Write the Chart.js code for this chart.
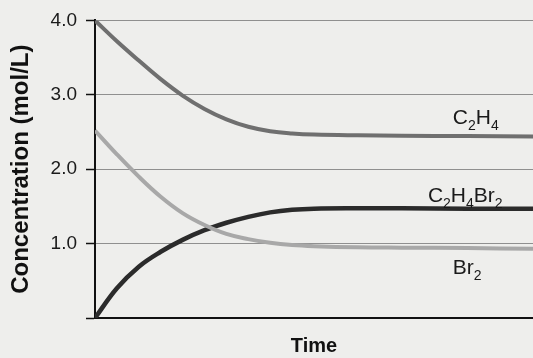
<!DOCTYPE html>
<html>
<head>
<meta charset="utf-8">
<script src="https://cdn.jsdelivr.net/npm/chart.js@4.4.1/dist/chart.umd.min.js"></script>
<style>
html, body { margin: 0; padding: 0; background: #eeeeec; }
#wrap { width: 533px; height: 358px; }
</style>
</head>
<body>
<div id="wrap"><canvas id="myChart"></canvas></div>
<script>
// time (arbitrary units) and concentrations (mol/L)
const times = [0, 0.5, 1.0, 1.5, 2.0, 2.5, 3.0, 3.5, 4.0, 4.5, 5.0, 6.0, 7.0, 8.5, 10.0];
const c2h4 = [4.0, 3.72, 3.46, 3.21, 2.99, 2.81, 2.67, 2.57, 2.51, 2.48, 2.465, 2.455, 2.45, 2.445, 2.44];
const br2 = [2.52, 2.20, 1.90, 1.63, 1.41, 1.25, 1.13, 1.06, 1.01, 0.98, 0.965, 0.95, 0.945, 0.94, 0.93];
const c2h4br2 = [0, 0.40, 0.69, 0.89, 1.05, 1.18, 1.28, 1.36, 1.42, 1.455, 1.47, 1.475, 1.475, 1.47, 1.47];
const yTicks = ['', '1.0', '2.0', '3.0', '4.0'];

// series labels: [parts, x (time), y (conc)]; parts flagged true are subscripts
const seriesLabels = [
  [[['C', false], ['2', true], ['H', false], ['4', true]], 8.17, 2.61],
  [[['C', false], ['2', true], ['H', false], ['4', true], ['Br', false], ['2', true]], 7.6, 1.56],
  [[['Br', false], ['2', true]], 8.17, 0.59]
];

const ctx = document.getElementById('myChart');

const toPts = (vals) => vals.map((v, i) => ({ x: times[i], y: v }));

const bgPlugin = {
  id: 'bg',
  beforeDraw(chart) {
    const c = chart.ctx;
    c.save();
    c.fillStyle = '#eeeeec';
    c.fillRect(0, 0, chart.width, chart.height);
    c.restore();
  }
};

const labelPlugin = {
  id: 'chemLabels',
  afterDatasetsDraw(chart) {
    const c = chart.ctx;
    const xs = chart.scales.x, ys = chart.scales.y;
    c.save();
    c.fillStyle = '#1a1a1a';
    c.textBaseline = 'alphabetic';
    c.textAlign = 'left';
    seriesLabels.forEach(([parts, tx, ty]) => {
      let px = xs.getPixelForValue(tx);
      const py = ys.getPixelForValue(ty);
      parts.forEach(([txt, sub]) => {
        c.font = sub ? '14px "Liberation Sans", Arial, sans-serif' : '21px "Liberation Sans", Arial, sans-serif';
        c.fillText(txt, px, sub ? py + 6 : py);
        px += c.measureText(txt).width;
      });
    });
    c.restore();
  }
};

new Chart(ctx, {
  type: 'line',
  data: {
    datasets: [{
      label: 'C2H4',
      data: toPts(c2h4),
      borderColor: '#6f6f6f',
      borderWidth: 4,
      pointRadius: 0,
      tension: 0.4
    }, {
      label: 'Br2',
      data: toPts(br2),
      borderColor: '#a8a8a8',
      borderWidth: 4,
      pointRadius: 0,
      tension: 0.4
    }, {
      label: 'C2H4Br2',
      data: toPts(c2h4br2),
      borderColor: '#2b2b2b',
      borderWidth: 4.5,
      pointRadius: 0,
      tension: 0.4
    }]
  },
  options: {
    responsive: true,
    maintainAspectRatio: false,
    animation: false,
    layout: { padding: { top: 17, right: 0, left: 0, bottom: 0 } },
    plugins: {
      legend: { display: false },
      tooltip: { enabled: false }
    },
    scales: {
      x: {
        type: 'linear',
        min: 0,
        max: 10,
        ticks: { display: false },
        grid: { display: false },
        border: { color: '#111', width: 2 },
        title: {
          display: true,
          text: 'Time',
          color: '#111',
          font: { family: '"Liberation Sans", Arial, sans-serif', size: 20, weight: 'bold' },
          padding: { top: 16, bottom: 0 }
        },
        afterFit(scale) { scale.height = 40; }
      },
      y: {
        min: 0,
        max: 4,
        ticks: {
          stepSize: 1,
          padding: 9,
          color: '#1a1a1a',
          font: { family: '"Liberation Sans", Arial, sans-serif', size: 19 },
          callback: (v) => yTicks[v]
        },
        grid: {
          color: '#8f8f8f',
          lineWidth: 1,
          borderDash: [1, 1],
          tickColor: '#111',
          tickBorderDash: [],
          tickLength: 9,
          tickWidth: 1.5
        },
        border: { color: '#111', width: 2 },
        title: {
          display: true,
          text: 'Concentration (mol/L)',
          color: '#111',
          font: { family: '"Liberation Sans", Arial, sans-serif', size: 24, weight: 'bold' },
          padding: { top: 7, bottom: 0 }
        },
        afterFit(scale) { scale.width = 95; }
      }
    }
  },
  plugins: [bgPlugin, labelPlugin]
});
</script>
</body>
</html>
